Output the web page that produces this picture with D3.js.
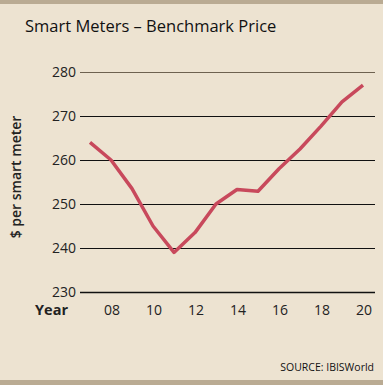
<!DOCTYPE html>
<html>
<head>
<meta charset="utf-8">
<script src="https://cdn.jsdelivr.net/npm/d3@7/dist/d3.min.js"></script>
<style>
  body { margin: 0; background: #ede3d1; }
  text { font-family: "Open Sans", "DejaVu Sans", sans-serif; }
</style>
</head>
<body>
<div id="chart"></div>
<script>
const years = [2007, 2008, 2009, 2010, 2011, 2012, 2013, 2014, 2015, 2016, 2017, 2018, 2019, 2020];
const prices = [264, 260, 253.5, 245, 239, 243.5, 250, 253.3, 252.9, 258, 262.5, 267.7, 273.2, 277];
const yTicks = [230, 240, 250, 260, 270, 280];
const xTicks = [2008, 2010, 2012, 2014, 2016, 2018, 2020];

const W = 383, H = 385;

const svg = d3.select('#chart')
  .append('svg')
  .attr('width', W)
  .attr('height', H);

// background and borders
svg.append('rect').attr('width', W).attr('height', H).attr('fill', '#ede3d1');
svg.append('rect').attr('width', W).attr('height', 4).attr('fill', '#baab93');
svg.append('rect').attr('y', H - 5).attr('width', W).attr('height', 5).attr('fill', '#baab93');

const xScale = d3.scaleLinear().domain([2007, 2020]).range([90, 363]);
const yScale = d3.scaleLinear().domain([230, 280]).range([292, 72]);

// title
svg.append('text')
  .attr('x', 25)
  .attr('y', 32)
  .attr('font-size', '16.5px')
  .attr('fill', '#111')
  .text('Smart Meters \u2013 Benchmark Price');

// gridlines
svg.append('g')
  .selectAll('line')
  .data(yTicks)
  .enter()
  .append('line')
  .attr('x1', 80)
  .attr('x2', 375)
  .attr('y1', d => yScale(d) + 0.5)
  .attr('y2', d => yScale(d) + 0.5)
  .attr('stroke', d => d === 280 ? '#6e6250' : '#111')
  .attr('stroke-width', d => d === 230 ? 1.3 : 1);

// y tick labels
svg.append('g')
  .selectAll('text')
  .data(yTicks)
  .enter()
  .append('text')
  .attr('x', 76)
  .attr('y', d => yScale(d) + 5)
  .attr('text-anchor', 'end')
  .attr('font-size', '14px')
  .attr('fill', '#222')
  .text(d => d);

// x tick labels
svg.append('g')
  .selectAll('text')
  .data(xTicks)
  .enter()
  .append('text')
  .attr('x', d => xScale(d) + 1)
  .attr('y', 315)
  .attr('text-anchor', 'middle')
  .attr('font-size', '14px')
  .attr('fill', '#222')
  .text(d => String(d).slice(2));

svg.append('text')
  .attr('x', 68)
  .attr('y', 315)
  .attr('text-anchor', 'end')
  .attr('font-size', '14.5px')
  .attr('font-weight', 'bold')
  .attr('fill', '#222')
  .text('Year');

// y axis title
svg.append('text')
  .attr('transform', 'rotate(-90)')
  .attr('x', -177)
  .attr('y', 21)
  .attr('text-anchor', 'middle')
  .attr('font-size', '14px')
  .attr('font-weight', '600')
  .attr('fill', '#222')
  .text('$ per smart meter');

// price line
svg.append('path')
  .datum(years.map((y, i) => ({ year: y, price: prices[i] })))
  .attr('fill', 'none')
  .attr('stroke', '#c8495c')
  .attr('stroke-width', 3.5)
  .attr('stroke-linejoin', 'round')
  .attr('d', d3.line()
    .x(d => xScale(d.year))
    .y(d => yScale(d.price)));

// source
svg.append('text')
  .attr('x', 374)
  .attr('y', 371)
  .attr('text-anchor', 'end')
  .attr('font-size', '10.5px')
  .attr('fill', '#111')
  .text('SOURCE: IBISWorld');
</script>
</body>
</html>
